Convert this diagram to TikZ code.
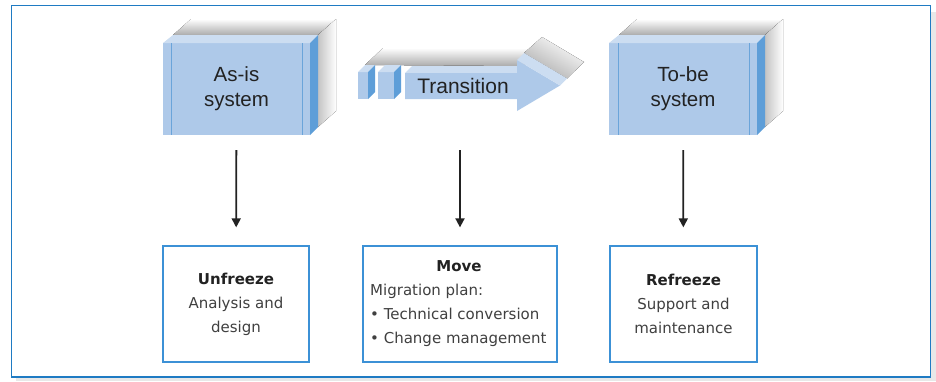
\documentclass[tikz,border=0pt]{standalone}
\usepackage{fontspec}
\setmainfont{DejaVu Sans}
\newfontfamily\arialf{Liberation Sans}
\usetikzlibrary{arrows.meta}
\definecolor{frontc}{HTML}{AEC9E9}
\definecolor{topc}{HTML}{CCDDF1}
\definecolor{sidec}{HTML}{5E9ED8}
\definecolor{linec}{HTML}{6AA4DA}
\definecolor{framec}{HTML}{1F7BC3}
\definecolor{boxc}{HTML}{3C91D6}
\definecolor{txtc}{HTML}{404040}
\definecolor{headc}{HTML}{222222}
\definecolor{shadc}{HTML}{ABABAB}
\begin{document}
\begin{tikzpicture}[x=1pt,y=-1pt,
  sysfront/.style={fill=frontc, draw=none, inner sep=0pt, minimum width=147pt, minimum height=92pt,
    align=center, text=headc, font=\arialf\fontsize{20.5}{25}\selectfont},
  topface/.style={fill=topc},
  sideface/.style={fill=sidec},
  inline/.style={draw=linec, line width=0.9pt},
  shadetop/.style={top color=white, bottom color=shadc},
  shadeside/.style={left color=shadc!70, right color=white},
  botbox/.style={draw=boxc, line width=1.3pt, fill=white, minimum width=146pt, minimum height=116pt, inner sep=0pt},
  bottxt/.style={text=txtc, font=\fontsize{15}{24}\selectfont},
  arr/.style={draw=headc, line width=1.8pt, -{Triangle[width=9pt,length=9pt]}}
]
\useasboundingbox (0,0) rectangle (936,381);
% frame with shadow
\fill[gray!18] (16,12) rectangle (936,381);
\draw[framec, line width=1.6pt, fill=white] (11.5,5.5) rectangle (930.5,377);

% ---- As-is system ----
\fill[shadetop] (173,35) -- (191,19) -- (336,19) -- (318,35) -- cycle;
\fill[shadeside] (318,35) -- (336,19) -- (336,111) -- (318,127) -- cycle;
\node[sysfront] (asis) at (236.5,89) {As-is\\system};
\fill[topface] (163,43) -- (173,35) -- (318,35) -- (310,43) -- cycle;
\fill[sideface] (310,43) -- (318,35) -- (318,127) -- (310,135) -- cycle;
\draw[inline] (171,43) -- (171,135);
\draw[inline] (302,43) -- (302,135);

% ---- To-be system ----
\fill[shadetop] (619,35) -- (637,19) -- (783,19) -- (765,35) -- cycle;
\fill[shadeside] (765,35) -- (783,19) -- (783,111) -- (765,127) -- cycle;
\node[sysfront, minimum width=148pt] (tobe) at (683,89) {To-be\\system};
\fill[topface] (609,43) -- (619,35) -- (765,35) -- (757,43) -- cycle;
\fill[sideface] (757,43) -- (765,35) -- (765,127) -- (757,135) -- cycle;
\draw[inline] (618,43) -- (618,135);
\draw[inline] (749,43) -- (749,135);

% ---- Transition arrow ----
\fill[shadetop] (365,65) -- (383,48) -- (542,48) -- (524,66) -- cycle;
\fill[shading=axis, top color=white, bottom color=shadc, shading angle=-30]
  (524,53) -- (542,37) -- (584,62) -- (567,78.5) -- cycle;
% small box 1
\fill[frontc] (358,72) rectangle (368,99);
\fill[topface] (358,72) -- (365,65) -- (375,65) -- (368,72) -- cycle;
\fill[sideface] (368,72) -- (375,65) -- (375,92) -- (368,99) -- cycle;
% small box 2
\fill[frontc] (378,72) rectangle (394,99);
\fill[topface] (378,72) -- (385,65) -- (401,65) -- (394,72) -- cycle;
\fill[sideface] (394,72) -- (401,65) -- (401,92) -- (394,99) -- cycle;
% shaft and head
\fill[topface] (405,73) -- (412,66) -- (524,66) -- (517,73) -- cycle;
\fill[frontc] (405,73) -- (517,73) -- (517,60) -- (560,85.5) -- (517,111) -- (517,99) -- (405,99) -- cycle;
\fill[topface] (517,60) -- (524,53) -- (567,78.5) -- (560,85.5) -- cycle;
\node[text=headc, font=\arialf\fontsize{21}{25}\selectfont, inner sep=0pt] (trans) at (463,86) {Transition};
\coordinate (trbot) at (460,135);

% ---- Bottom boxes ----
\node[botbox] (uf) at (236,304) {};
\node[botbox, minimum width=194pt] (mv) at (460,304) {};
\node[botbox, minimum width=147pt] (rf) at (683.5,304) {};

\node[bottxt, align=center] (uft) at (uf) {\textcolor{headc}{\textbf{Unfreeze}}\\Analysis and\\design};
\node[bottxt] (mvh) at (459,266) {\textcolor{headc}{\textbf{Move}}};
\node[bottxt, align=left, anchor=west, inner sep=0pt] (mvt) at (370,315) {Migration plan:\\\textbullet\ Technical conversion\\\textbullet\ Change management};
\node[bottxt, align=center] (rft) at (rf) {\textcolor{headc}{\textbf{Refreeze}}\\Support and\\maintenance};

% ---- Connectors ----
\draw[arr, shorten <=15pt, shorten >=18pt] (asis) -- (uf);
\draw[arr, shorten >=18pt] (trbot) ++(0,15) -- (mv);
\draw[arr, shorten <=15pt, shorten >=18pt] (tobe) -- (rf);
\end{tikzpicture}
\end{document}
